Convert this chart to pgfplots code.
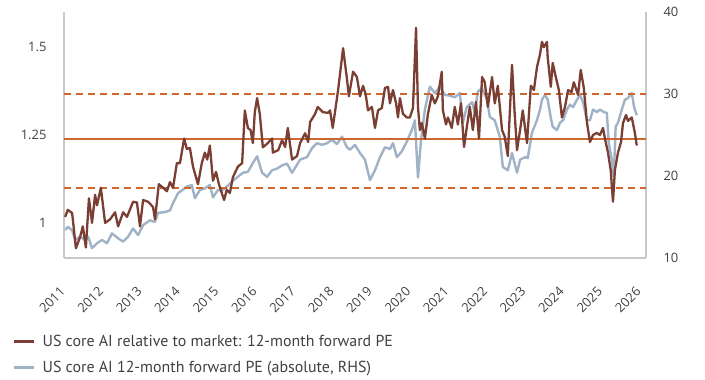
\documentclass[border=0pt]{standalone}
\usepackage{pgfplots}
\pgfplotsset{compat=1.18}
\usepackage{pgfplotstable}
\usepackage{fontspec}
\setmainfont{PT Sans}
\newfontfamily\tickfont{Open Sans}
\definecolor{brownline}{RGB}{122,62,50}
\definecolor{greyline}{RGB}{160,178,198}
\definecolor{orangeline}{RGB}{205,103,45}
\definecolor{axisgrey}{RGB}{200,200,200}
\definecolor{textgrey}{RGB}{64,64,64}

\pgfplotstableread{
yr v
2011.03 1.017
2011.10 1.037
2011.21 1.028
2011.23 1.010
2011.31 0.928
2011.42 0.960
2011.49 0.990
2011.57 0.930
2011.65 1.070
2011.73 1.000
2011.81 1.080
2011.86 1.050
2011.96 1.100
2012.07 1.000
2012.20 1.010
2012.33 1.030
2012.41 0.990
2012.54 1.030
2012.64 1.017
2012.80 1.060
2012.90 1.058
2012.98 0.990
2013.06 1.065
2013.19 1.060
2013.32 1.045
2013.37 1.010
2013.47 1.110
2013.58 1.100
2013.68 1.090
2013.76 1.116
2013.84 1.100
2013.94 1.170
2014.02 1.170
2014.13 1.240
2014.20 1.210
2014.28 1.213
2014.36 1.160
2014.49 1.110
2014.59 1.170
2014.67 1.200
2014.73 1.180
2014.80 1.220
2014.88 1.120
2014.96 1.145
2015.04 1.108
2015.11 1.085
2015.17 1.065
2015.24 1.094
2015.32 1.085
2015.40 1.130
2015.53 1.160
2015.64 1.170
2015.71 1.320
2015.79 1.270
2015.86 1.264
2015.92 1.227
2015.97 1.315
2016.03 1.355
2016.10 1.310
2016.18 1.215
2016.31 1.227
2016.42 1.240
2016.44 1.200
2016.58 1.207
2016.68 1.235
2016.76 1.216
2016.83 1.270
2016.94 1.180
2017.07 1.190
2017.15 1.227
2017.28 1.255
2017.36 1.230
2017.41 1.287
2017.54 1.310
2017.61 1.330
2017.74 1.315
2017.88 1.313
2017.93 1.320
2018.00 1.270
2018.14 1.378
2018.27 1.497
2018.37 1.410
2018.42 1.360
2018.53 1.430
2018.63 1.415
2018.71 1.360
2018.79 1.390
2018.86 1.364
2018.92 1.320
2019.02 1.330
2019.10 1.270
2019.18 1.320
2019.28 1.327
2019.36 1.384
2019.44 1.387
2019.49 1.340
2019.57 1.378
2019.65 1.340
2019.70 1.300
2019.75 1.355
2019.83 1.310
2019.93 1.300
2020.01 1.300
2020.09 1.327
2020.17 1.555
2020.22 1.330
2020.27 1.264
2020.32 1.284
2020.40 1.240
2020.48 1.310
2020.58 1.364
2020.66 1.340
2020.74 1.360
2020.84 1.430
2020.87 1.320
2020.95 1.280
2021.00 1.300
2021.10 1.270
2021.18 1.330
2021.26 1.280
2021.34 1.340
2021.42 1.216
2021.49 1.270
2021.57 1.330
2021.65 1.264
2021.73 1.344
2021.81 1.240
2021.89 1.415
2021.96 1.400
2022.04 1.330
2022.15 1.415
2022.22 1.340
2022.30 1.390
2022.41 1.264
2022.48 1.245
2022.56 1.190
2022.67 1.450
2022.74 1.310
2022.80 1.207
2022.88 1.264
2022.95 1.320
2023.06 1.227
2023.16 1.390
2023.24 1.378
2023.32 1.443
2023.40 1.480
2023.45 1.515
2023.50 1.500
2023.58 1.515
2023.60 1.470
2023.68 1.387
2023.73 1.455
2023.81 1.415
2023.89 1.378
2023.97 1.300
2024.05 1.330
2024.13 1.378
2024.22 1.372
2024.28 1.400
2024.39 1.364
2024.46 1.435
2024.54 1.384
2024.62 1.287
2024.70 1.230
2024.78 1.250
2024.88 1.256
2024.96 1.250
2025.04 1.270
2025.09 1.240
2025.17 1.200
2025.24 1.150
2025.30 1.060
2025.35 1.150
2025.43 1.200
2025.51 1.230
2025.56 1.284
2025.64 1.307
2025.69 1.290
2025.79 1.300
2025.87 1.256
2025.92 1.220
}\relpe

\pgfplotstableread{
yr v
2011.03 13.4
2011.10 13.8
2011.21 13.4
2011.29 12.2
2011.42 12.6
2011.55 12.2
2011.63 12.6
2011.73 11.2
2011.86 11.8
2011.99 12.2
2012.12 11.8
2012.25 13.0
2012.41 12.4
2012.54 12.0
2012.67 12.6
2012.80 13.6
2012.93 12.8
2013.06 14.0
2013.24 14.6
2013.37 14.4
2013.45 15.5
2013.63 15.6
2013.76 15.8
2013.84 16.7
2013.97 17.9
2014.20 18.7
2014.33 18.9
2014.41 17.3
2014.54 18.3
2014.67 18.5
2014.80 18.9
2014.88 17.4
2015.01 18.3
2015.11 18.2
2015.24 18.7
2015.37 19.3
2015.50 19.8
2015.66 20.4
2015.79 20.5
2015.92 21.6
2016.03 22.4
2016.16 20.4
2016.29 19.9
2016.42 20.7
2016.55 20.9
2016.68 21.3
2016.81 21.5
2016.94 20.4
2017.02 21.0
2017.15 22.0
2017.33 22.3
2017.46 23.4
2017.59 24.0
2017.72 23.8
2017.85 24.0
2017.98 24.4
2018.11 23.9
2018.24 24.8
2018.37 23.5
2018.45 23.2
2018.58 23.8
2018.71 22.8
2018.84 22.0
2018.97 19.5
2019.10 20.7
2019.23 22.3
2019.36 23.5
2019.49 23.3
2019.57 24.0
2019.67 22.3
2019.80 23.0
2019.93 24.2
2020.06 25.6
2020.14 26.8
2020.22 19.8
2020.30 24.4
2020.40 28.1
2020.53 30.9
2020.66 30.1
2020.79 30.9
2020.92 29.9
2021.05 29.8
2021.18 29.6
2021.31 30.1
2021.39 26.5
2021.49 28.4
2021.63 29.0
2021.70 27.7
2021.78 30.3
2021.89 30.7
2022.02 29.3
2022.09 27.2
2022.22 26.8
2022.35 24.8
2022.43 21.1
2022.56 20.7
2022.67 22.8
2022.80 20.4
2022.88 22.0
2023.01 22.3
2023.08 22.2
2023.19 25.3
2023.32 26.8
2023.40 28.1
2023.45 29.3
2023.53 29.9
2023.60 29.3
2023.68 27.1
2023.73 26.0
2023.84 25.6
2023.92 26.5
2024.00 26.8
2024.10 28.1
2024.18 28.7
2024.26 28.4
2024.36 29.3
2024.44 29.9
2024.52 29.0
2024.62 26.8
2024.70 26.8
2024.78 28.1
2024.88 27.8
2024.96 28.1
2025.06 27.8
2025.14 27.7
2025.19 24.0
2025.27 22.0
2025.32 19.9
2025.37 26.0
2025.43 26.5
2025.53 28.1
2025.61 29.3
2025.69 29.5
2025.79 30.1
2025.85 28.4
2025.92 27.4
}\abspe

\pgfplotsset{
  base/.style={
    scale only axis, width=582bp, height=246bp,
    at={(64bp,122bp)}, anchor=south west,
    xmin=2011, xmax=2026.16,
    major tick length=0pt, minor tick length=0pt,
    axis line style={draw=axisgrey, line width=1.2bp},
    tick label style={font=\tickfont\fontsize{13}{13}\selectfont, text=textgrey},
    /pgf/number format/assume math mode=true,
  }
}

\begin{document}
\begin{tikzpicture}
\useasboundingbox (0,0) rectangle (705bp,380bp);
% right axis (absolute PE)
\begin{axis}[base,
  ymin=10, ymax=40,
  axis y line*=right, axis x line=none,
  ytick={10,20,30,40}, yticklabels={10,20,30,40},
  yticklabel style={xshift=14bp},
]
\addplot[greyline, line width=2.4bp, line join=round] table[x=yr, y=v] {\abspe};
\end{axis}
% left axis (relative PE)
\begin{axis}[base,
  ymin=0.9, ymax=1.6,
  axis y line*=left, axis x line*=bottom,
  ytick={1,1.25,1.5}, yticklabels={1,1.25,1.5},
  yticklabel style={xshift=-14bp},
  xtick={2011,2012,...,2026},
  xticklabels={2011,2012,2013,2014,2015,2016,2017,2018,2019,2020,2021,2022,2023,2024,2025,2026},
  xticklabel style={yshift=-29bp, xshift=1bp, rotate=45, anchor=east},
  legend style={at={(axis description cs:-0.0876,-0.3088)}, anchor=north west,
    draw=none, fill=none, inner sep=0pt, font=\fontsize{16}{16}\selectfont, text=textgrey,
    row sep=11bp, nodes={inner sep=1bp},
    /tikz/every odd column/.append style={column sep=6bp}},
  legend cell align=left,
  legend image code/.code={\draw[#1] (0bp,0bp) -- (20bp,0bp);},
]
\addplot[orangeline, line width=2.2bp, dash pattern=on 7bp off 5bp, forget plot] coordinates {(2011,1.367) (2026.16,1.367)};
\addplot[orangeline, line width=2.5bp, forget plot] coordinates {(2011,1.238) (2026.16,1.238)};
\addplot[orangeline, line width=2.2bp, dash pattern=on 7bp off 5bp, forget plot] coordinates {(2011,1.100) (2026.16,1.100)};
\addplot[brownline, line width=2.3bp, line join=round] table[x=yr, y=v] {\relpe};
\addlegendentry{US core AI relative to market: 12-month forward PE}
\addlegendimage{greyline, line width=2.4bp}
\addlegendentry{US core AI 12-month forward PE (absolute, RHS)}
\end{axis}
\end{tikzpicture}
\end{document}
